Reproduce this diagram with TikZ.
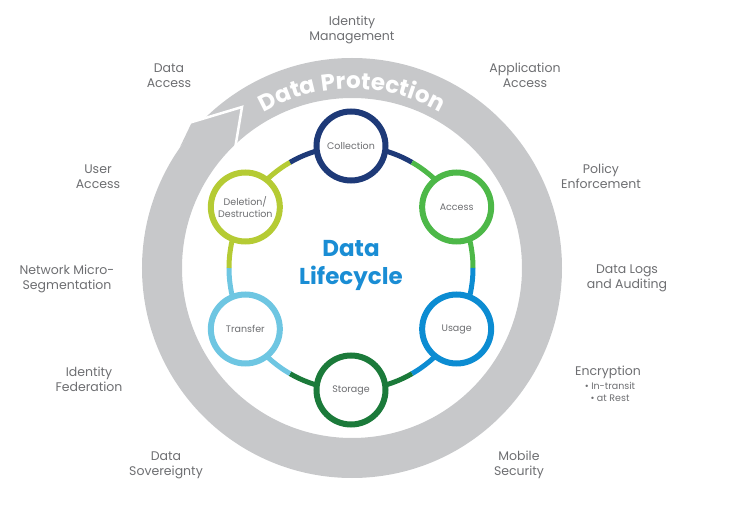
\documentclass[tikz,border=0pt]{standalone}
\usepackage{fontspec}
\setmainfont{Poppins}
\usetikzlibrary{decorations.text,calc,backgrounds}
\definecolor{ringgrey}{HTML}{C7C8CA}
\definecolor{txtgrey}{HTML}{6D6E71}
\definecolor{cnavy}{HTML}{1E3A78}
\definecolor{cgreen}{HTML}{4DB848}
\definecolor{cblue}{HTML}{0C8CD2}
\definecolor{cdkgreen}{HTML}{1B7A3A}
\definecolor{cltblue}{HTML}{6EC6E2}
\definecolor{clime}{HTML}{B5CB34}
\definecolor{lcblue}{HTML}{1A8DD4}
\begin{document}
\begin{tikzpicture}[x=1pt,y=1pt,
  lbl/.style={text=txtgrey, font=\fontsize{12.5pt}{15pt}\selectfont, align=center, inner sep=0pt},
  stage/.style={circle, minimum size=69pt, inner sep=0pt, line width=6pt, fill=white, text=txtgrey, font=\fontsize{9.5pt}{11.5pt}\selectfont, align=center},
  conn/.style={line width=5pt},
  bl/.style={bend left=15, looseness=0.87},
  br/.style={bend right=15, looseness=0.87}]
\useasboundingbox (-352,-256) rectangle (384,268);
% protection ring with arrow
\draw[ringgrey, line width=40pt] (0,0) circle[radius=190pt];
\coordinate (B) at (-160,146);
\coordinate (T) at (-110,161);
\coordinate (I) at (-116,125);
\coordinate (X) at (-147.1,149.9);
\coordinate (C2) at (-172,121);
\fill[ringgrey] (B) -- (X) -- (C2) -- cycle;
\draw[white, line width=2.5pt, line join=miter] ($(B)!-0.3!(T)$) -- (T) -- ($(T)!1.2!(I)$);
\path[decorate, decoration={text along path, text align=center,
  text={|\color{white}\bfseries\fontsize{23pt}{23pt}\selectfont|Data{ }Protection}}]
  (150:179pt) arc[start angle=150, end angle=30, radius=179pt];
% lifecycle stages
\node[stage, draw=cnavy] (col) at (-1,122) {Collection};
\node[stage, draw=cgreen] (acc) at (104.66,61) {Access};
\node[stage, draw=cblue] (usa) at (104.66,-61) {Usage};
\node[stage, draw=cdkgreen] (sto) at (-1,-122) {Storage};
\node[stage, draw=cltblue] (tra) at (-106.66,-61) {Transfer};
\node[stage, draw=clime] (del) at (-106.66,61) {Deletion/\\Destruction};
\coordinate (m1) at (60,105.66);
\coordinate (m2) at (121,0);
\coordinate (m3) at (60,-105.66);
\coordinate (m4) at (-62,-105.66);
\coordinate (m5) at (-123,0);
\coordinate (m6) at (-62,105.66);
\begin{scope}[on background layer]
\draw[conn,cnavy] (col.center) to[bl] (m1);
\draw[conn,cgreen] (acc.center) to[br] (m1);
\draw[conn,cgreen] (acc.center) to[bl] (m2);
\draw[conn,cblue] (usa.center) to[br] (m2);
\draw[conn,cblue] (usa.center) to[bl] (m3);
\draw[conn,cdkgreen] (sto.center) to[br] (m3);
\draw[conn,cdkgreen] (sto.center) to[bl] (m4);
\draw[conn,cltblue] (tra.center) to[br] (m4);
\draw[conn,cltblue] (tra.center) to[bl] (m5);
\draw[conn,clime] (del.center) to[br] (m5);
\draw[conn,clime] (del.center) to[bl] (m6);
\draw[conn,cnavy] (col.center) to[br] (m6);
\end{scope}
\node[text=lcblue, font=\bfseries\fontsize{23pt}{28pt}\selectfont, align=center] (dl) at (-1,3) {Data\\Lifecycle};
% outer labels
\node[lbl] (l1) at (0,238.5) {Identity\\Management};
\node[lbl] (l2) at (173,192.5) {Application\\Access};
\node[lbl] (l3) at (-183,192.5) {Data\\Access};
\node[lbl] (l4) at (-254,91.5) {User\\Access};
\node[lbl] (l5) at (249,91.5) {Policy\\Enforcement};
\node[lbl] (l6) at (-285,-10.5) {Network Micro-\\Segmentation};
\node[lbl] (l7) at (275,-10.5) {Data Logs\\and Auditing};
\node[lbl] (l8) at (-263,-111.5) {Identity\\Federation};
\node[lbl] (l9) at (256,-104) {Encryption};
\node[text=txtgrey, font=\fontsize{9.5pt}{12pt}\selectfont, align=center, inner sep=0pt] (l9b) at (258,-123.5) {• In-transit\\• at Rest};
\node[lbl] (l10) at (-186,-197) {Data\\Sovereignty};
\node[lbl] (l11) at (167,-197) {Mobile\\Security};
\end{tikzpicture}
\end{document}
